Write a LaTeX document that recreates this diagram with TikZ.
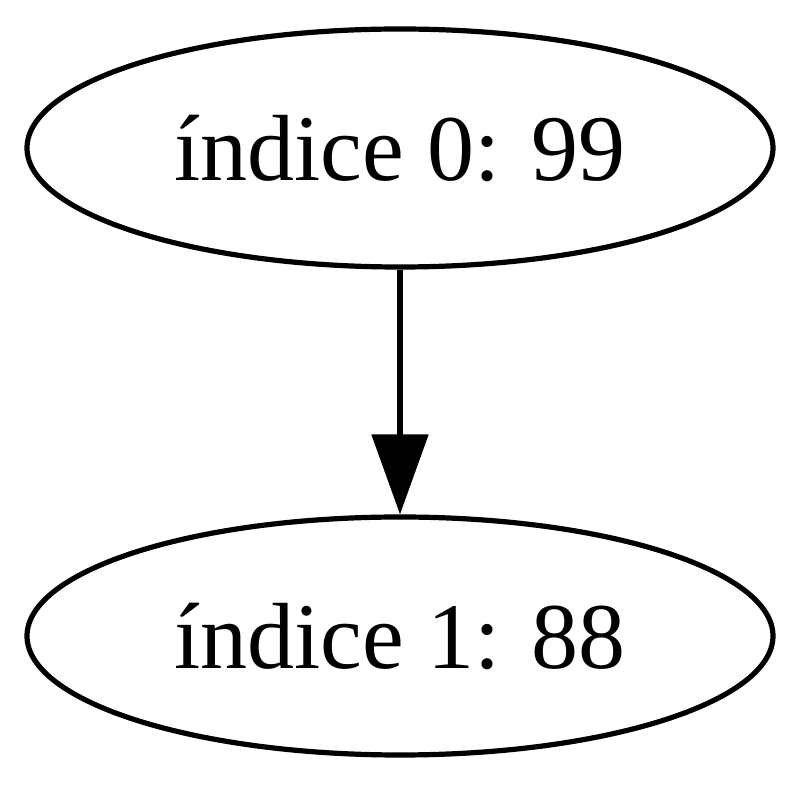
\documentclass[tikz,border=0pt]{standalone}
\usepackage{fontspec}
\setmainfont{Liberation Serif}
\usetikzlibrary{shapes.geometric,arrows.meta}
\begin{document}
\begin{tikzpicture}[x=0.5pt,y=-0.5pt,
  elnode/.style={draw,ellipse,line width=2.6pt,inner sep=0pt,minimum width=373pt,minimum height=119pt,font=\fontsize{47}{50}\selectfont},
  conn/.style={line width=2.6pt,-{Triangle[length=40pt,width=28pt]}}]
\useasboundingbox (0,0) rectangle (800,786);
\node[elnode] (a) at (400,148) {índice 0: 99};
\node[elnode] (b) at (400,636) {índice 1: 88};
\draw[conn] (a) -- (b);
\end{tikzpicture}
\end{document}
